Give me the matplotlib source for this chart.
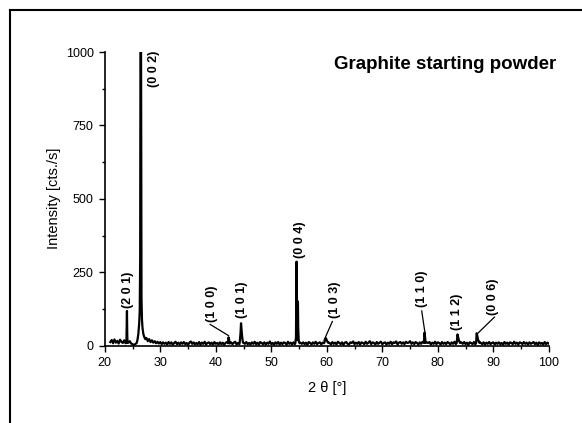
import numpy as np
import matplotlib
matplotlib.use('Agg')
import matplotlib.pyplot as plt
from matplotlib.lines import Line2D
from matplotlib.ticker import MultipleLocator

plt.rcParams['font.family'] = ['Liberation Sans', 'DejaVu Sans']

# background counts on a 0.25 deg grid, 21.00 .. 100.00
bg_start = 21.0
bg_step = 0.25
background = [
    12, 19, 8, 21, 10, 16, 7, 20, 13, 9, 18, 8, 16, 10, 15, 7, 5, 2, 5, 9,
    30, 60, 900, 80, 40, 30, 26, 15, 22, 12, 18, 10, 15, 8, 13, 7, 12, 5, 11, 6,
    10, 4, 12, 6, 11, 3, 9, 13, 5, 10, 4, 11, 6, 12, 5, 9, 3, 10, 14, 6,
    11, 4, 9, 5, 12, 3, 10, 6, 13, 4, 9, 11, 5, 10, 3, 12, 6, 9, 4, 11,
    5, 10, 3, 9, 12, 6, 4, 11, 5, 10, 13, 4, 9, 5, 11, 3, 10, 6, 12, 5,
    9, 4, 11, 6, 13, 5, 10, 3, 12, 9, 5, 11, 4, 10, 6, 14, 5, 9, 3, 11,
    6, 12, 4, 10, 5, 11, 9, 3, 13, 6, 10, 4, 11, 5, 9, 12, 4, 10, 6, 11,
    5, 10, 3, 12, 9, 4, 11, 6, 13, 5, 9, 11, 4, 10, 6, 12, 5, 11, 9, 4,
    12, 6, 10, 4, 13, 9, 5, 11, 3, 10, 12, 6, 4, 11, 9, 14, 5, 10, 6, 12,
    4, 11, 9, 5, 13, 6, 10, 15, 5, 11, 9, 4, 12, 6, 10, 13, 5, 9, 11, 4,
    10, 6, 13, 5, 11, 9, 14, 4, 10, 12, 6, 11, 5, 13, 9, 10, 15, 6, 11, 5,
    12, 9, 4, 11, 6, 13, 10, 5, 11, 9, 12, 4, 10, 6, 13, 5, 11, 9, 4, 12,
    6, 10, 5, 12, 9, 4, 11, 6, 13, 5, 10, 9, 4, 11, 6, 12, 5, 10, 3, 11,
    9, 5, 12, 4, 10, 6, 13, 9, 5, 11, 4, 10, 6, 12, 5, 9, 11, 4, 10, 6,
    11, 5, 9, 3, 12, 6, 10, 4, 11, 9, 5, 13, 6, 10, 4, 11, 9, 5, 12, 6,
    10, 4, 11, 6, 9, 12, 5, 10, 3, 11, 6, 9, 4, 12, 5, 10, 6, 11, 5, 9, 8,
]

# peak profiles (2theta, counts)
peak_x = [
    [23.9, 23.95, 24.0, 24.05, 24.1],
    [25.9, 26.05, 26.2, 26.3, 26.38, 26.45, 26.5, 26.55, 26.62, 26.7, 26.8, 26.95, 27.1, 27.3],
    [42.2, 42.3, 42.4, 42.5],
    [44.3, 44.45, 44.55, 44.65, 44.75, 44.9],
    [54.35, 54.45, 54.55, 54.6, 54.7, 54.8, 54.85, 54.95, 55.1],
    [59.5, 59.7, 59.85, 60.0, 60.2],
    [77.5, 77.6, 77.7, 77.8],
    [83.4, 83.55, 83.65, 83.8, 84.0],
    [86.9, 87.0, 87.1, 87.25, 87.45],
]
peak_y = [
    [10, 60, 118, 40, 9],
    [20, 40, 75, 118, 300, 1250, 1400, 900, 160, 90, 60, 40, 30, 22],
    [8, 28, 20, 7],
    [9, 40, 76, 55, 30, 10],
    [10, 30, 286, 200, 20, 150, 60, 15, 8],
    [8, 18, 25, 18, 10],
    [9, 44, 30, 9],
    [9, 38, 30, 18, 9],
    [9, 42, 35, 20, 10],
]

# labels: text, x, y (bottom of text), leader line (x0, y0, x1, y1) or None
labels = ['(2 0 1)', '(0 0 2)', '(1 0 0)', '(1 0 1)', '(0 0 4)',
          '(1 0 3)', '(1 1 0)', '(1 1 2)', '(0 0 6)']
label_x = [24.1, 28.9, 39.3, 44.7, 55.2, 61.4, 77.1, 83.4, 90.0]
label_y = [127, 880, 82, 93, 298, 93, 133, 53, 105]
leaders = [None, None, (39.0, 72, 42.3, 34), None, None,
           (61.0, 82, 59.5, 18), (77.1, 118, 77.7, 42), None,
           (90.2, 97, 87.1, 40)]

bx = bg_start + bg_step * np.arange(len(background))
by = np.array(background, dtype=float)
keep = np.ones(len(bx), dtype=bool)
for px in peak_x:
    keep &= ~((bx >= px[0]) & (bx <= px[-1]))
xs = np.concatenate([bx[keep]] + [np.array(p) for p in peak_x])
ys = np.concatenate([by[keep]] + [np.array(p, dtype=float) for p in peak_y])
order = np.argsort(xs)
xs = xs[order]
ys = ys[order]

fig = plt.figure(figsize=(5.82, 4.23), dpi=100)
ax = fig.add_axes([0.180, 0.183, 0.763, 0.694])
ax.plot(xs, ys, color='black', lw=1.6)

ax.set_xlim(20, 100)
ax.set_ylim(0, 1000)
ax.xaxis.set_major_locator(MultipleLocator(10))
ax.xaxis.set_minor_locator(MultipleLocator(5))
ax.yaxis.set_major_locator(MultipleLocator(250))
ax.yaxis.set_minor_locator(MultipleLocator(125))
ax.tick_params(which='major', direction='out', length=4, width=1, labelsize=9, pad=4)
ax.tick_params(which='minor', direction='out', length=2.5, width=1)
for s in ['top', 'right']:
    ax.spines[s].set_visible(False)
for s in ['left', 'bottom']:
    ax.spines[s].set_linewidth(1.2)

ax.set_xlabel('2 θ [°]', fontsize=10.5, labelpad=9)
ax.set_ylabel('Intensity [cts./s]', fontsize=10.5, labelpad=3)

for t, lx, ly, ld in zip(labels, label_x, label_y, leaders):
    ax.text(lx, ly, t, rotation=90, ha='center', va='bottom',
            fontsize=9, fontweight='bold')
    if ld is not None:
        ax.plot([ld[0], ld[2]], [ld[1], ld[3]], color='black', lw=0.9)

ax.text(101.4, 957, 'Graphite starting powder', ha='right', va='center',
        fontsize=13.5, fontweight='bold', clip_on=False)

# page frame (left and top edges visible)
fig.add_artist(Line2D([10 / 582, 10 / 582], [0, 1 - 10 / 423], color='black', lw=1.5))
fig.add_artist(Line2D([10 / 582, 1], [1 - 10 / 423, 1 - 10 / 423], color='black', lw=1.5))

fig.savefig('out.png', dpi=100)
